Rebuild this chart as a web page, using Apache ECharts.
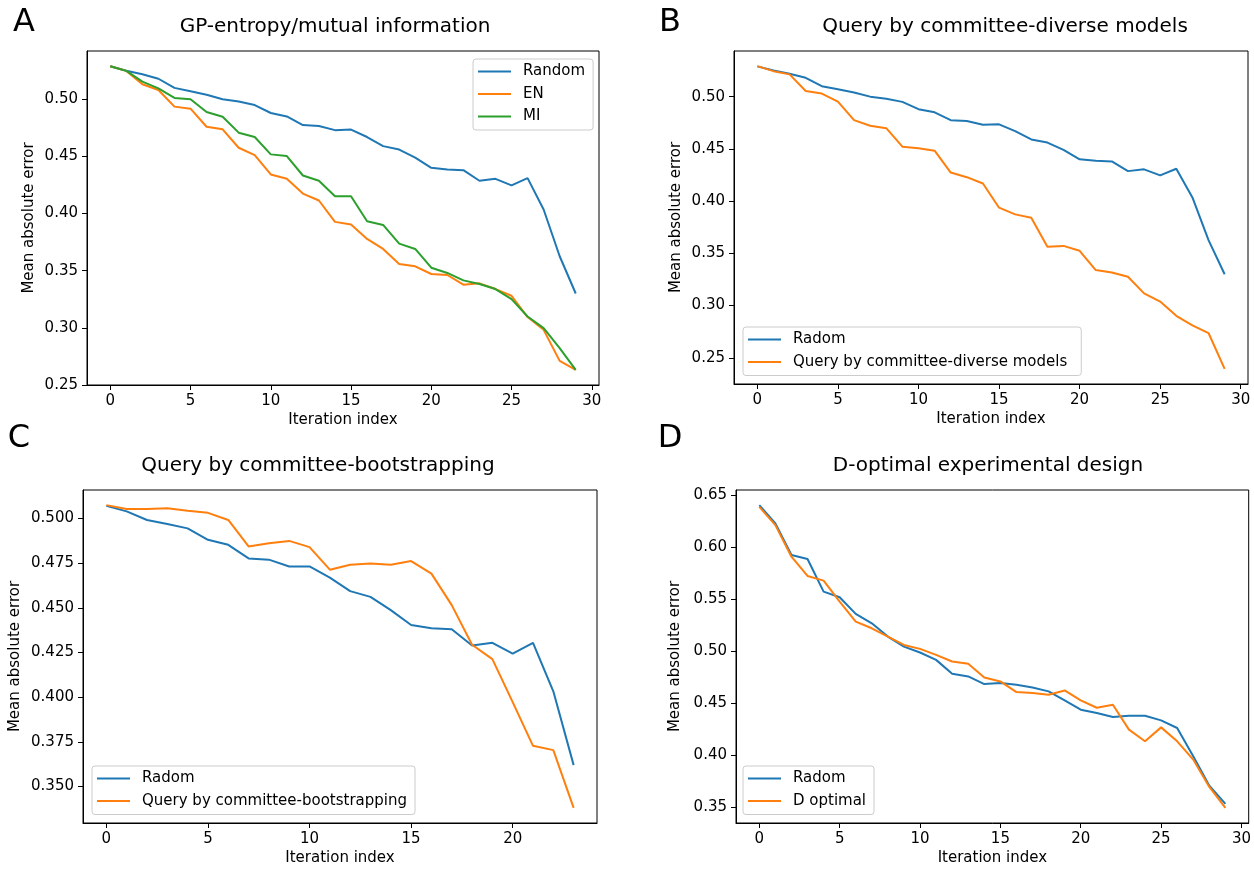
<!DOCTYPE html>
<html><head><meta charset="utf-8">
<script src="https://cdn.jsdelivr.net/npm/echarts@6/dist/echarts.min.js"></script>
<style>html,body{margin:0;padding:0;background:#fff}#c{width:1254px;height:869px}</style>
</head><body><div id="c"></div>
<script>
// ---- data ----
const iter30 = [0,1,2,3,4,5,6,7,8,9,10,11,12,13,14,15,16,17,18,19,20,21,22,23,24,25,26,27,28,29];
const iter24 = [0,1,2,3,4,5,6,7,8,9,10,11,12,13,14,15,16,17,18,19,20,21,22,23];

// Panel A
const randomA = [0.529,0.525,0.522,0.518,0.510,0.507,0.504,0.500,0.498,0.495,0.488,0.485,0.4775,0.4766,0.473,0.4735,0.467,0.459,0.456,0.449,0.440,0.4386,0.438,0.4287,0.4304,0.4246,0.431,0.4035,0.3626,0.330];
const enA = [0.529,0.5249,0.5132,0.5082,0.4936,0.4918,0.476,0.4737,0.4576,0.4512,0.4342,0.4304,0.4175,0.4114,0.3927,0.3904,0.3778,0.369,0.3558,0.3538,0.3471,0.3462,0.3377,0.3389,0.3339,0.328,0.3094,0.2982,0.271,0.2632];
const miA = [0.529,0.5249,0.5155,0.5096,0.5012,0.500,0.4889,0.4848,0.4708,0.467,0.4518,0.4503,0.4333,0.4287,0.4152,0.4152,0.3933,0.390,0.3737,0.369,0.3526,0.348,0.3415,0.3383,0.3339,0.3251,0.3099,0.2997,0.2822,0.2632];

// Panel B
const radomB = [0.529,0.525,0.522,0.518,0.510,0.507,0.504,0.500,0.498,0.495,0.488,0.485,0.4775,0.4766,0.473,0.4735,0.467,0.459,0.456,0.449,0.440,0.4386,0.438,0.4287,0.4304,0.4246,0.431,0.4035,0.3626,0.330];
const diverseB = [0.5292,0.5244,0.5213,0.5054,0.5029,0.4952,0.4775,0.4721,0.4698,0.4521,0.4505,0.4483,0.4273,0.4229,0.4168,0.3937,0.3873,0.3841,0.3562,0.3571,0.3524,0.334,0.3317,0.3276,0.3117,0.3038,0.2902,0.281,0.2737,0.2394];

// Panel C
const radomC = [0.507,0.5039,0.4991,0.4969,0.4944,0.488,0.4852,0.4776,0.4769,0.4731,0.4731,0.4669,0.4593,0.4561,0.4487,0.4404,0.4385,0.438,0.4289,0.4304,0.4243,0.4304,0.4033,0.362];
const bootC = [0.5074,0.5052,0.5052,0.5057,0.5043,0.5031,0.4991,0.4843,0.4861,0.4874,0.4839,0.4713,0.4741,0.4748,0.4741,0.4761,0.4691,0.4515,0.4293,0.4213,0.3972,0.3728,0.3704,0.3381];

// Panel D
const radomD = [0.6404,0.6228,0.5924,0.5886,0.5572,0.5518,0.5358,0.5268,0.514,0.5044,0.4987,0.4916,0.4782,0.4757,0.4683,0.4693,0.4677,0.4651,0.4613,0.4526,0.4437,0.4405,0.4366,0.4379,0.4379,0.4334,0.4261,0.3989,0.3707,0.3531];
const dOptD = [0.6388,0.6212,0.5908,0.5723,0.5678,0.5476,0.5284,0.522,0.514,0.506,0.5022,0.4964,0.490,0.4878,0.4747,0.4709,0.4606,0.4597,0.4581,0.4622,0.4526,0.4456,0.4485,0.4245,0.4133,0.4267,0.4133,0.3957,0.3694,0.3493];

// tick labels
const xTicks30 = [0,5,10,15,20,25,30];
const xTicks24 = [0,5,10,15,20];
const yTicksAB = [0.25,0.30,0.35,0.40,0.45,0.50];
const yTicksC = [0.350,0.375,0.400,0.425,0.450,0.475,0.500];
const yTicksD = [0.35,0.40,0.45,0.50,0.55,0.60,0.65];

const titles = ['GP-entropy/mutual information','Query by committee-diverse models','Query by committee-bootstrapping','D-optimal experimental design'];
const letters = ['A','B','C','D'];

// ---- chart ----
const FF = 'DejaVu Sans';
const FS = 15;
const BLUE = '#1f77b4', ORANGE = '#ff7f0e', GREEN = '#2ca02c';
const pairs = (xs, ys) => xs.map((x, i) => [x, ys[i]]);
function range(arrs) {
  let lo = Infinity, hi = -Infinity;
  arrs.forEach(a => a.forEach(v => { lo = Math.min(lo, v); hi = Math.max(hi, v); }));
  const p = (hi - lo) * 0.05;
  return [lo - p, hi + p];
}

const grids = [
  {left: 87, top: 51, width: 512, height: 334},
  {left: 734, top: 51, width: 514, height: 333},
  {left: 83, top: 490, width: 514, height: 333},
  {left: 736, top: 490, width: 513, height: 333}
];

function xAx(gi, xs, ticks) {
  const r = range([xs]);
  return {
    type: 'value', gridIndex: gi, min: r[0], max: r[1],
    axisLine: {show: true, onZero: false, lineStyle: {color: '#000', width: 1}},
    axisTick: {show: true, length: 5, customValues: ticks, lineStyle: {color: '#000'}},
    axisLabel: {customValues: ticks, color: '#000', fontSize: FS, fontFamily: FF, margin: 9},
    splitLine: {show: false},
    name: 'Iteration index', nameLocation: 'middle', nameGap: 28,
    nameTextStyle: {color: '#000', fontSize: FS, fontFamily: FF}
  };
}
function yAx(gi, arrs, ticks, dec, gap) {
  const r = range(arrs);
  return {
    type: 'value', gridIndex: gi, min: r[0], max: r[1],
    axisLine: {show: true, onZero: false, lineStyle: {color: '#000', width: 1}},
    axisTick: {show: true, length: 5, customValues: ticks, lineStyle: {color: '#000'}},
    axisLabel: {customValues: ticks, color: '#000', fontSize: FS, fontFamily: FF, margin: 9,
      formatter: v => Number(v).toFixed(dec)},
    splitLine: {show: false},
    name: 'Mean absolute error', nameLocation: 'middle', nameGap: gap, nameRotate: 90,
    nameTextStyle: {color: '#000', fontSize: FS, fontFamily: FF}
  };
}
function ln(name, xs, ys, color, gi) {
  return {type: 'line', name, data: pairs(xs, ys), xAxisIndex: gi, yAxisIndex: gi,
    showSymbol: false, symbol: 'none', lineStyle: {color, width: 2}, itemStyle: {color},
    animation: false, silent: true};
}
function legend(names, left, top, padRight) {
  return {
    data: names, orient: 'vertical', left, top, icon: 'rect', itemWidth: 33, itemHeight: 2,
    itemGap: 5.5, padding: [4, padRight, 5, 5], borderColor: '#cccccc', borderWidth: 1, borderRadius: 3,
    backgroundColor: 'rgba(255,255,255,0.8)', selectedMode: false,
    textStyle: {color: '#000', fontSize: FS, fontFamily: FF, lineHeight: 17, padding: [0, 0, 0, 7]}
  };
}

const chart = echarts.init(document.getElementById('c'), null, {renderer: 'canvas'});
const titlePos = [[335, 27], [1005, 27], [318, 466], [988, 466]];
const letterPos = [[24, 23], [670, 23], [19, 439], [670, 439]];
const graphics = [];
titles.forEach((t, i) => graphics.push({type: 'text', x: titlePos[i][0], y: titlePos[i][1],
  style: {text: t, fill: '#000', font: '20px "DejaVu Sans"', textAlign: 'center', textVerticalAlign: 'middle'}}));
letters.forEach((t, i) => graphics.push({type: 'text', x: letterPos[i][0], y: letterPos[i][1],
  style: {text: t, fill: '#000', font: '32px "DejaVu Sans"', textAlign: 'center', textVerticalAlign: 'middle'}}));

chart.setOption({
  animation: false,
  backgroundColor: '#fff',
  grid: grids.map(g => Object.assign({show: true, borderColor: '#000', borderWidth: 1, backgroundColor: 'transparent'}, g)),
  xAxis: [xAx(0, iter30, xTicks30), xAx(1, iter30, xTicks30), xAx(2, iter24, xTicks24), xAx(3, iter30, xTicks30)],
  yAxis: [yAx(0, [randomA, enA, miA], yTicksAB, 2, 50), yAx(1, [radomB, diverseB], yTicksAB, 2, 50),
          yAx(2, [radomC, bootC], yTicksC, 3, 60), yAx(3, [radomD, dOptD], yTicksD, 2, 53)],
  legend: [
    legend(['Random', 'EN', 'MI'], 473, 59, 8),
    legend(['Radom', 'Query by committee-diverse models'], 743, 327, 14),
    legend(['Radom ', 'Query by committee-bootstrapping'], 92, 766, 8),
    legend(['Radom  ', 'D optimal'], 743, 766, 8)
  ],
  series: [
    ln('Random', iter30, randomA, BLUE, 0), ln('EN', iter30, enA, ORANGE, 0), ln('MI', iter30, miA, GREEN, 0),
    ln('Radom', iter30, radomB, BLUE, 1), ln('Query by committee-diverse models', iter30, diverseB, ORANGE, 1),
    ln('Radom ', iter24, radomC, BLUE, 2), ln('Query by committee-bootstrapping', iter24, bootC, ORANGE, 2),
    ln('Radom  ', iter30, radomD, BLUE, 3), ln('D optimal', iter30, dOptD, ORANGE, 3)
  ],
  graphic: graphics
});
</script></body></html>
